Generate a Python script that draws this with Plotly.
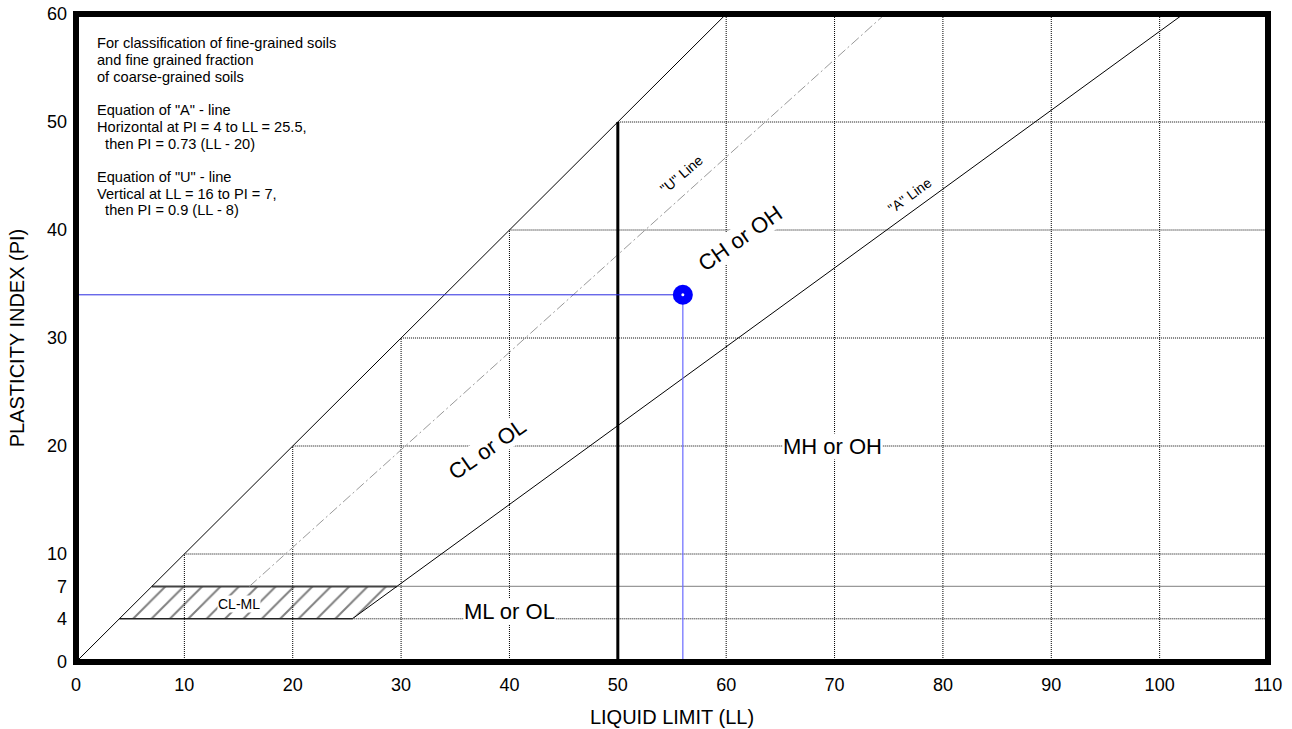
import plotly.graph_objects as go

# ---- data ----
x_ticks = [0, 10, 20, 30, 40, 50, 60, 70, 80, 90, 100, 110]
y_ticks = [0, 4, 7, 10, 20, 30, 40, 50, 60]

# boundary lines (LL, PI)
upper_ll = [0, 60]
upper_pi = [0, 60]
a_line_ll = [25.5, 102.2]
a_line_pi = [4.0, 60.0]
u_line_ll = [16.0, 74.67]
u_line_pi = [7.0, 60.0]
ll50_ll = [50, 50]
ll50_pi = [0, 50]

# CL-ML hatched zone
clml_ll = [4.0, 25.5, 29.6, 7.0, 4.0]
clml_pi = [4.0, 4.0, 7.0, 7.0, 4.0]

# grid lines that stop at the PI = LL line
grid_low = [10, 20, 30, 40]
grid_high = [60, 70, 80, 90, 100]

# sample
sample_ll = [56]
sample_pi = [34]

zone_labels = [
    ("CL or OL", 37.9, 19.7, -35, 22),
    ("CH or OH", 61.3, 39.2, -35, 22),
    ("MH or OH", 69.8, 20.0, 0, 22),
    ("ML or OL", 40.0, 4.7, 0, 22),
    ("CL-ML", 15.0, 5.4, 0, 14),
    ('"U" Line', 55.9, 45.2, -40, 14),
    ('"A" Line', 77.0, 43.2, -36, 14),
]

note_lines = [
    "For classification of fine-grained soils",
    "and fine grained fraction",
    "of coarse-grained soils",
    "",
    'Equation of "A" - line',
    "Horizontal at PI = 4 to LL = 25.5,",
    "\u00a0\u00a0then PI = 0.73 (LL - 20)",
    "",
    'Equation of "U" - line',
    "Vertical at LL = 16 to PI = 7,",
    "\u00a0\u00a0then PI = 0.9 (LL - 8)",
]

FONT = "Liberation Sans, Arial, sans-serif"
GRID = dict(color="#000", width=1, dash="1px,1px")

fig = go.Figure()

# hatched CL-ML zone
fig.add_trace(go.Scatter(
    x=clml_ll, y=clml_pi, mode="lines", fill="toself",
    fillcolor="rgba(0,0,0,0)",
    fillpattern=dict(shape="/", size=13, solidity=0.15, fgcolor="#000", bgcolor="rgba(0,0,0,0)"),
    line=dict(color="rgba(0,0,0,0)", width=0), hoverinfo="skip", showlegend=False))

# grid lines
for g in grid_low:
    fig.add_trace(go.Scatter(x=[g, g], y=[0, g], mode="lines", line=GRID, hoverinfo="skip", showlegend=False))
    fig.add_trace(go.Scatter(x=[g, 110], y=[g, g], mode="lines", line=GRID, hoverinfo="skip", showlegend=False))
for g in grid_high:
    fig.add_trace(go.Scatter(x=[g, g], y=[0, 60], mode="lines", line=GRID, hoverinfo="skip", showlegend=False))
fig.add_trace(go.Scatter(x=[50, 110], y=[50, 50], mode="lines", line=GRID, hoverinfo="skip", showlegend=False))

# PI = 4 and PI = 7 lines
fig.add_trace(go.Scatter(x=[clml_ll[1], 110], y=[4, 4], mode="lines", line=GRID, hoverinfo="skip", showlegend=False))
fig.add_trace(go.Scatter(x=[clml_ll[2], 110], y=[7, 7], mode="lines", line=dict(color="#999", width=1.2), hoverinfo="skip", showlegend=False))
fig.add_trace(go.Scatter(x=[clml_ll[0], clml_ll[1]], y=[4, 4], mode="lines", line=dict(color="#222", width=1.5), hoverinfo="skip", showlegend=False))
fig.add_trace(go.Scatter(x=[clml_ll[3], clml_ll[2]], y=[7, 7], mode="lines", line=dict(color="#444", width=2), hoverinfo="skip", showlegend=False))

# U line
fig.add_trace(go.Scatter(x=u_line_ll, y=u_line_pi, mode="lines", line=dict(color="#999", width=1, dash="10px,3px,2px,3px"), hoverinfo="skip", showlegend=False))
# upper boundary and A line
fig.add_trace(go.Scatter(x=upper_ll, y=upper_pi, mode="lines", line=dict(color="black", width=1), hoverinfo="skip", showlegend=False))
fig.add_trace(go.Scatter(x=a_line_ll, y=a_line_pi, mode="lines", line=dict(color="black", width=1), hoverinfo="skip", showlegend=False))
# LL = 50
fig.add_trace(go.Scatter(x=ll50_ll, y=ll50_pi, mode="lines", line=dict(color="black", width=3), hoverinfo="skip", showlegend=False))

# sample guide lines and point
fig.add_trace(go.Scatter(x=[0, sample_ll[0]], y=[sample_pi[0], sample_pi[0]], mode="lines", line=dict(color="#2a2ae0", width=1), hoverinfo="skip", showlegend=False))
fig.add_trace(go.Scatter(x=[sample_ll[0], sample_ll[0]], y=[sample_pi[0], 0], mode="lines", line=dict(color="#6a6aff", width=1.2), hoverinfo="skip", showlegend=False))
fig.add_trace(go.Scatter(x=sample_ll, y=sample_pi, mode="markers", marker=dict(color="#0000ff", size=20, line=dict(width=0)), showlegend=False))
fig.add_trace(go.Scatter(x=sample_ll, y=sample_pi, mode="markers", marker=dict(color="white", size=3, line=dict(width=0)), hoverinfo="skip", showlegend=False))

annotations = []
for text, x, y, ang, size in zone_labels:
    annotations.append(dict(
        x=x, y=y, xref="x", yref="y", text=text, showarrow=False, textangle=ang,
        font=dict(family=FONT, size=size, color="black"),
        bgcolor="white", borderpad=0))

for i, line in enumerate(note_lines):
    if not line:
        continue
    annotations.append(dict(
        x=0.016, y=1 - (43.3 - 14 + i * 16.7) / 648, xref="paper", yref="paper",
        text=line, showarrow=False, xanchor="left", yanchor="middle",
        font=dict(family=FONT, size=14.6, color="black")))

fig.update_layout(
    width=1292, height=729,
    margin=dict(l=76, r=24, t=14, b=67, autoexpand=False),
    paper_bgcolor="white", plot_bgcolor="white",
    font=dict(family=FONT, color="black"),
    annotations=annotations,
    shapes=[dict(type="rect", xref="paper", yref="paper", x0=0, y0=0, x1=1, y1=1,
                 line=dict(color="black", width=6), layer="above")],
    xaxis=dict(range=[0, 110], tickvals=x_ticks, showgrid=False, zeroline=False,
               showline=False, ticks="", ticklabelstandoff=10, automargin=False,
               tickfont=dict(family=FONT, size=18),
               title=dict(text="LIQUID LIMIT (LL)", font=dict(family=FONT, size=20), standoff=15)),
    yaxis=dict(range=[0, 60], tickvals=y_ticks, showgrid=False, zeroline=False,
               showline=False, ticks="", ticklabelstandoff=8, automargin=False,
               tickfont=dict(family=FONT, size=18),
               title=dict(text="PLASTICITY INDEX (PI)", font=dict(family=FONT, size=20), standoff=16)),
)

fig.write_html("out.html", config={"displayModeBar": False},
               post_script="document.body.style.margin='0';document.body.style.overflow='hidden';")
